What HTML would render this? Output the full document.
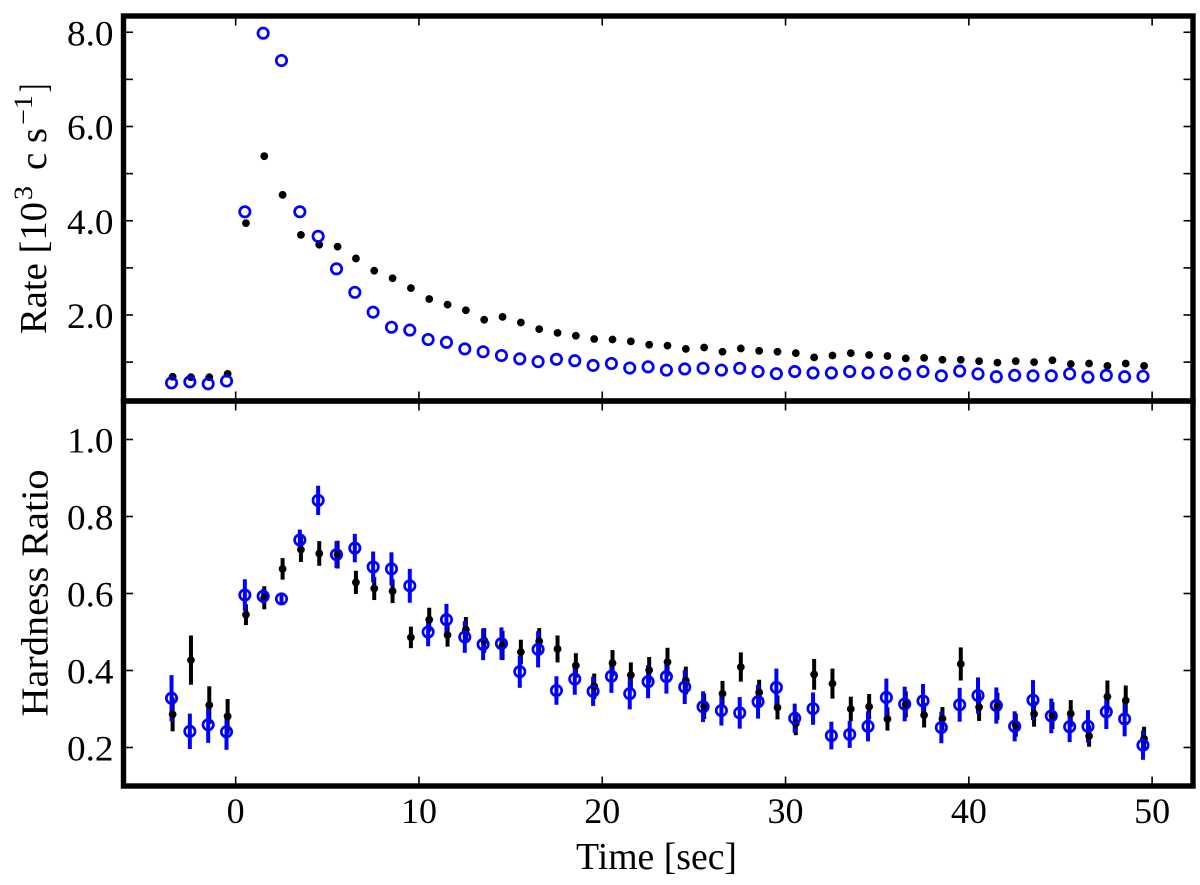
<!DOCTYPE html>
<html lang="en">
<head>
<meta charset="utf-8">
<title>Rate and Hardness Ratio vs Time</title>
<style>
html,body{margin:0;padding:0;background:#fff;width:1200px;height:885px;overflow:hidden}
svg{display:block}
text{font-family:"Liberation Serif",serif;fill:#000}
</style>
</head>
<body>
<svg id="chart" width="1200" height="885" viewBox="0 0 1200 885" xmlns="http://www.w3.org/2000/svg">
  <rect x="0" y="0" width="1200" height="885" fill="#fff"/>
  <g id="bars"></g>
  <g id="dots"></g>
  <g id="rings"></g>
  <g id="ticks"></g>
  <rect x="123.5" y="16" width="1069.5" height="385" fill="none" stroke="#000" stroke-width="5.4"/>
  <rect x="123.5" y="401" width="1069.5" height="385" fill="none" stroke="#000" stroke-width="5.4"/>
  <g id="labels"></g>

  <g>
    <text transform="translate(46,334) rotate(-90)" font-size="38" textLength="132" lengthAdjust="spacingAndGlyphs">Rate [10</text>
    <text transform="translate(32,200) rotate(-90)" font-size="26" textLength="14" lengthAdjust="spacingAndGlyphs">3</text>
    <text transform="translate(46,170) rotate(-90)" font-size="38" textLength="42" lengthAdjust="spacingAndGlyphs">c s</text>
    <text transform="translate(32,125) rotate(-90)" font-size="26" textLength="30" lengthAdjust="spacingAndGlyphs">−1</text>
    <text transform="translate(46,92) rotate(-90)" font-size="38" textLength="8" lengthAdjust="spacingAndGlyphs">]</text>
  </g>
  <text transform="translate(47.5,716.5) rotate(-90)" font-size="38" textLength="247" lengthAdjust="spacingAndGlyphs">Hardness Ratio</text>
  <text x="576" y="869" font-size="38" textLength="161" lengthAdjust="spacingAndGlyphs">Time [sec]</text>
</svg>
<script>
const times = [-3.5,-2.5,-1.5,-0.5,0.5,1.5,2.5,3.5,4.5,5.5,6.5,7.5,8.5,9.5,10.5,11.5,12.5,13.5,14.5,15.5,16.5,17.5,18.5,19.5,20.5,21.5,22.5,23.5,24.5,25.5,26.5,27.5,28.5,29.5,30.5,31.5,32.5,33.5,34.5,35.5,36.5,37.5,38.5,39.5,40.5,41.5,42.5,43.5,44.5,45.5,46.5,47.5,48.5,49.5];

const rateBlack = [0.69,0.68,0.68,0.75,3.95,5.37,4.55,3.70,3.49,3.45,3.20,2.94,2.78,2.57,2.34,2.22,2.10,1.90,1.96,1.84,1.70,1.62,1.56,1.49,1.48,1.44,1.37,1.35,1.28,1.31,1.22,1.29,1.24,1.22,1.19,1.10,1.14,1.19,1.15,1.13,1.08,1.09,1.05,1.05,1.02,0.99,1.02,1.00,1.04,0.96,0.97,0.92,0.97,0.92];

const rateBlue = [0.56,0.58,0.54,0.60,4.19,7.98,7.40,4.19,3.67,2.98,2.48,2.06,1.74,1.68,1.48,1.42,1.28,1.22,1.14,1.07,1.01,1.06,1.03,0.93,0.97,0.875,0.90,0.83,0.855,0.87,0.83,0.87,0.80,0.755,0.80,0.77,0.77,0.80,0.77,0.78,0.75,0.80,0.71,0.81,0.75,0.69,0.72,0.71,0.71,0.75,0.68,0.72,0.69,0.70];

const hardBlack = [0.286,0.427,0.310,0.281,0.545,0.589,0.664,0.714,0.704,0.701,0.629,0.613,0.606,0.486,0.532,0.492,0.506,0.478,0.465,0.448,0.476,0.456,0.413,0.359,0.419,0.388,0.401,0.422,0.374,0.307,0.340,0.409,0.343,0.304,0.262,0.390,0.366,0.300,0.306,0.274,0.312,0.284,0.275,0.417,0.305,0.307,0.258,0.287,0.283,0.288,0.230,0.332,0.322,0.223];

const hardBlackErr = [0.044,0.064,0.049,0.045,0.027,0.030,0.028,0.032,0.032,0.036,0.030,0.030,0.031,0.028,0.031,0.030,0.033,0.032,0.038,0.032,0.034,0.035,0.032,0.033,0.034,0.033,0.034,0.037,0.036,0.033,0.033,0.038,0.033,0.031,0.030,0.040,0.039,0.032,0.033,0.030,0.034,0.032,0.030,0.043,0.036,0.035,0.030,0.033,0.035,0.035,0.028,0.042,0.039,0.031];

const hardBlue = [0.328,0.242,0.259,0.241,0.596,0.593,0.586,0.739,0.842,0.701,0.718,0.669,0.664,0.620,0.500,0.532,0.487,0.468,0.470,0.397,0.455,0.348,0.378,0.346,0.385,0.340,0.371,0.384,0.357,0.306,0.296,0.290,0.319,0.356,0.276,0.301,0.231,0.234,0.255,0.330,0.313,0.321,0.252,0.311,0.335,0.309,0.255,0.323,0.282,0.254,0.255,0.293,0.274,0.206];

const hardBlueErr = [0.060,0.046,0.047,0.047,0.041,0.018,0.014,0.027,0.038,0.035,0.037,0.040,0.043,0.044,0.037,0.041,0.041,0.041,0.042,0.042,0.047,0.037,0.041,0.038,0.043,0.041,0.043,0.044,0.044,0.040,0.039,0.041,0.044,0.049,0.038,0.042,0.036,0.035,0.039,0.049,0.045,0.044,0.041,0.044,0.047,0.047,0.039,0.052,0.045,0.040,0.042,0.045,0.045,0.038];

const xTicks = [0,10,20,30,40,50];
const xTickLabels = ["0","10","20","30","40","50"];
const rateMajorTicks = [2,4,6,8];
const rateMajorLabels = ["2.0","4.0","6.0","8.0"];
const rateMinorTicks = [1,3,5,7];
const hardTicks = [0.2,0.4,0.6,0.8,1.0];
const hardTickLabels = ["0.2","0.4","0.6","0.8","1.0"];
const blackTimeShift = 0.06;

const plotLeft = 123.5, plotRight = 1193;
const rateTop = 16, rateBottom = 401, hardTop = 401, hardBottom = 786;
const xMin = -6.12, xMax = 52.23;
const rateMin = 0.175, rateMax = 8.345;
const hardMin = 0.1, hardMax = 1.1;
const tickLen = 9.5;

function xScale(t) { return plotLeft + (t - xMin) / (xMax - xMin) * (plotRight - plotLeft); }
function yRate(v) { return rateBottom - (v - rateMin) / (rateMax - rateMin) * (rateBottom - rateTop); }
function yHard(v) { return hardBottom - (v - hardMin) / (hardMax - hardMin) * (hardBottom - hardTop); }

const NS = "http://www.w3.org/2000/svg";
const barsG = document.getElementById("bars");
const dotsG = document.getElementById("dots");
const ringsG = document.getElementById("rings");
const ticksG = document.getElementById("ticks");
const labelsG = document.getElementById("labels");

function drawLine(parent, x1, y1, x2, y2, color, width) {
  const el = document.createElementNS(NS, "line");
  el.setAttribute("x1", x1);
  el.setAttribute("y1", y1);
  el.setAttribute("x2", x2);
  el.setAttribute("y2", y2);
  el.setAttribute("stroke", color);
  el.setAttribute("stroke-width", width);
  parent.appendChild(el);
  return el;
}

function drawDot(cx, cy) {
  const el = document.createElementNS(NS, "circle");
  el.setAttribute("cx", cx);
  el.setAttribute("cy", cy);
  el.setAttribute("r", 3.9);
  el.setAttribute("fill", "#000");
  dotsG.appendChild(el);
  return el;
}

function drawRing(cx, cy) {
  const el = document.createElementNS(NS, "circle");
  el.setAttribute("cx", cx);
  el.setAttribute("cy", cy);
  el.setAttribute("r", 5.2);
  el.setAttribute("fill", "none");
  el.setAttribute("stroke", "#0000ff");
  el.setAttribute("stroke-width", 2.7);
  ringsG.appendChild(el);
  return el;
}

function drawLabel(x, y, str, anchor, length) {
  const el = document.createElementNS(NS, "text");
  el.setAttribute("x", x);
  el.setAttribute("y", y);
  el.setAttribute("font-size", 36);
  el.setAttribute("text-anchor", anchor);
  if (length) {
    el.setAttribute("textLength", length);
    el.setAttribute("lengthAdjust", "spacingAndGlyphs");
  }
  el.textContent = str;
  labelsG.appendChild(el);
  return el;
}

/* error bars: black first, then blue */
times.forEach(function (t, i) {
  const x = xScale(t + blackTimeShift);
  const bar = drawLine(barsG, x, yHard(hardBlack[i] - hardBlackErr[i]), x, yHard(hardBlack[i] + hardBlackErr[i]), "#000", 4);
  
  
});
times.forEach(function (t, i) {
  const x = xScale(t);
  const bar = drawLine(barsG, x, yHard(hardBlue[i] - hardBlueErr[i]), x, yHard(hardBlue[i] + hardBlueErr[i]), "#0000ff", 4);
  
  
});

/* black markers */
times.forEach(function (t, i) {
  const x = xScale(t + blackTimeShift);
  const rp = drawDot(x, yRate(rateBlack[i]));
  
  
  const hp = drawDot(x, yHard(hardBlack[i]));
  
  
});

/* blue open markers */
times.forEach(function (t, i) {
  const x = xScale(t);
  const rp = drawRing(x, yRate(rateBlue[i]));
  
  
  const hp = drawRing(x, yHard(hardBlue[i]));
  
  
});

/* x ticks on both panels, inward on every edge */
xTicks.forEach(function (t, i) {
  const x = xScale(t);
  [rateTop, hardTop].forEach(function (edge) {
    const tk = drawLine(ticksG, x, edge, x, edge + tickLen, "#000", 1.6);
    
    
  });
  [rateBottom, hardBottom].forEach(function (edge) {
    const tk = drawLine(ticksG, x, edge, x, edge - tickLen, "#000", 1.6);
    
    
  });
  const lab = drawLabel(x, 823, xTickLabels[i], "middle");
  
  
});

function yTickPair(y) {
  const a = drawLine(ticksG, plotLeft, y, plotLeft + tickLen, y, "#000", 1.6);
  
  
  const b = drawLine(ticksG, plotRight, y, plotRight - tickLen, y, "#000", 1.6);
  
  
}

rateMajorTicks.forEach(function (v, i) {
  const y = yRate(v);
  yTickPair(y);
  const lab = drawLabel(67, y + 13, rateMajorLabels[i], "start", 46.5);
  
  
});
rateMinorTicks.forEach(function (v) {
  yTickPair(yRate(v));
});
hardTicks.forEach(function (v, i) {
  const y = yHard(v);
  yTickPair(y);
  const lab = drawLabel(67, y + 13, hardTickLabels[i], "start", 46.5);
  
  
});
</script>
</body>
</html>
